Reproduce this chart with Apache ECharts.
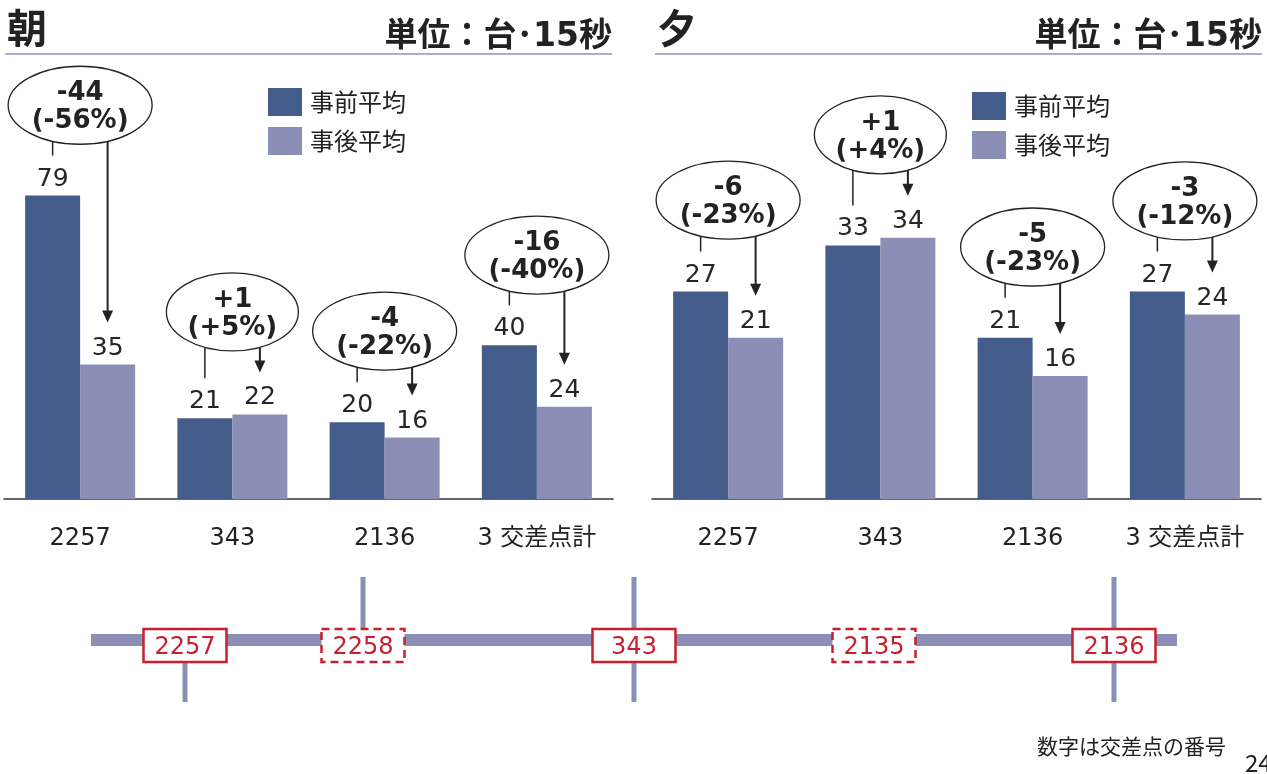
<!DOCTYPE html>
<html>
<head>
<meta charset="utf-8">
<script src="https://cdn.jsdelivr.net/npm/echarts@6/dist/echarts.min.js"></script>
<style>
  html, body { margin: 0; padding: 0; background: #fff; }
  #main { width: 1267px; height: 774px; }
</style>
</head>
<body>
<div id="main"></div>
<script>
// Intersections on the x axis
const categories = ['2257', '343', '2136', '3 交差点計'];

// Morning (朝): average vehicles per 15 s, before / after
const morningBefore = [79, 21, 20, 40];
const morningAfter  = [35, 22, 16, 24];
const morningChange = ['-44', '+1', '-4', '-16'];
const morningPct    = ['(-56%)', '(+5%)', '(-22%)', '(-40%)'];
// height (in axis units) of each callout bubble
const morningCalloutY = [102.5, 48.7, 43.7, 63.5];

// Evening (夕)
const eveningBefore = [27, 33, 21, 27];
const eveningAfter  = [21, 34, 16, 24];
const eveningChange = ['-6', '+1', '-5', '-3'];
const eveningPct    = ['(-23%)', '(+4%)', '(-23%)', '(-12%)'];
const eveningCalloutY = [38.9, 47.4, 32.8, 38.8];

const seriesNames = ['事前平均', '事後平均'];

// Road sketch: intersection numbers along the corridor
const intersections = ['2257', '2258', '343', '2135', '2136'];
const intersectionDashed = [false, true, false, true, false];

const COLOR_BEFORE = '#445C89';
const COLOR_AFTER = '#8B8FB6';
const INK = '#222222';
const RED = '#C8202F';
const JP = '"Noto Sans CJK JP", "Noto Sans", sans-serif';
const NUM = '"DejaVu Sans", Verdana, sans-serif';
const MIXED = '"DejaVu Sans", "Noto Sans CJK JP", sans-serif';

const chart = echarts.init(document.getElementById('main'), null, { renderer: 'canvas' });

function calloutRenderer(changes, pcts, before, after) {
  return function (params, api) {
    const i = params.dataIndex;
    const c = api.coord([api.value(0), api.value(1)]);
    const cx = c[0], cy = c[1];
    const rx = pcts[i].length > 5 ? 72 : 66;
    const ry = 39;
    const off = 27.5;
    const edge = cy + ry * Math.sqrt(1 - (off / rx) * (off / rx)) - 1;
    const tickEnd = api.coord([i, before[i]])[1] - 40;
    const tip = api.coord([i, after[i]])[1] - 42;
    return {
      type: 'group',
      children: [
        { type: 'line', shape: { x1: cx - off, y1: edge, x2: cx - off, y2: tickEnd },
          style: { stroke: INK, lineWidth: 1.5 } },
        { type: 'line', shape: { x1: cx + off, y1: edge, x2: cx + off, y2: tip - 10 },
          style: { stroke: INK, lineWidth: 2 } },
        { type: 'polygon', shape: { points: [[cx + off - 5.5, tip - 12], [cx + off + 5.5, tip - 12], [cx + off, tip]] },
          style: { fill: INK } },
        { type: 'ellipse', shape: { cx: cx, cy: cy, rx: rx, ry: ry },
          style: { fill: '#fff', stroke: INK, lineWidth: 1.3 } },
        { type: 'text', style: {
            text: changes[i] + '\n' + pcts[i], x: cx, y: cy + 2,
            align: 'center', verticalAlign: 'middle',
            font: 'bold 26px ' + NUM, lineHeight: 28, fill: INK } }
      ]
    };
  };
}

function barSeries(name, data, axis, color) {
  return {
    name: name, type: 'bar', xAxisIndex: axis, yAxisIndex: axis,
    data: data, barWidth: 55, barGap: '0%',
    itemStyle: { color: color },
    label: { show: true, position: 'top', distance: 4,
             fontFamily: NUM, fontSize: 25, color: '#262626' },
    emphasis: { disabled: true },
    z: 2
  };
}

function calloutSeries(axis, ys, changes, pcts, before, after) {
  return {
    type: 'custom', xAxisIndex: axis, yAxisIndex: axis,
    data: ys.map((y, i) => [i, y]),
    encode: { x: 0, y: 1 },
    renderItem: calloutRenderer(changes, pcts, before, after),
    silent: true, z: 5
  };
}

function xAxisFor(grid) {
  return {
    type: 'category', gridIndex: grid, data: categories,
    axisLine: { lineStyle: { color: '#333', width: 1.5 } },
    axisTick: { show: false },
    axisLabel: { interval: 0, fontFamily: MIXED, fontSize: 24, color: INK, margin: 28 }
  };
}

function yAxisFor(grid, max) {
  return { type: 'value', gridIndex: grid, min: 0, max: max, show: false, splitLine: { show: false } };
}

// Title band for one panel
function header(x0, x1, title) {
  return [
    { type: 'text', x: x0 + 2, y: 28, style: { text: title, font: 'bold 40px ' + JP, fill: INK, verticalAlign: 'middle' } },
    { type: 'text', x: x1, y: 37, style: { text: '単位：台･15秒', font: 'bold 33px "DejaVu Sans", "Noto Sans CJK JP", sans-serif', fill: INK, align: 'right', verticalAlign: 'middle' } },
    { type: 'line', shape: { x1: x0, y1: 54, x2: x1, y2: 54 }, style: { stroke: '#8E93BE', lineWidth: 1.5 } }
  ];
}

// Road sketch below the charts
function roadSketch() {
  const roadColor = COLOR_AFTER;
  const nodeX = [185, 363, 634, 874, 1114];
  const spurs = [[662, 702], [577, 628], [577, 702], null, [577, 702]];
  const els = [
    { type: 'rect', shape: { x: 91, y: 634, width: 1086, height: 12 }, style: { fill: roadColor } }
  ];
  spurs.forEach((s, i) => {
    if (s) els.push({ type: 'rect', shape: { x: nodeX[i] - 2.5, y: s[0], width: 5, height: s[1] - s[0] }, style: { fill: roadColor } });
  });
  intersections.forEach((name, i) => {
    els.push({
      type: 'rect', shape: { x: nodeX[i] - 41.5, y: 629, width: 83, height: 33 },
      style: { fill: '#fff', stroke: RED, lineWidth: 2.5, lineDash: intersectionDashed[i] ? [8, 5] : null }
    });
    els.push({
      type: 'text', x: nodeX[i], y: 648,
      style: { text: name, font: '24px ' + MIXED, fill: RED, align: 'center', verticalAlign: 'middle' }
    });
  });
  els.push({ type: 'text', x: 1037, y: 746, style: { text: '数字は交差点の番号', font: '21px ' + JP, fill: INK, verticalAlign: 'middle' } });
  els.push({ type: 'text', x: 1245, y: 763, style: { text: '24', font: '24px ' + JP, fill: INK, verticalAlign: 'middle' } });
  return els;
}

const legendBase = {
  data: seriesNames, orient: 'vertical', icon: 'rect', padding: 0,
  itemWidth: 34, itemHeight: 28, itemGap: 11, selectedMode: false,
  textStyle: { fontFamily: JP, fontSize: 24, color: INK, padding: [0, 0, 0, 3] }
};

const option = {
  backgroundColor: '#fff',
  animation: false,
  grid: [
    { left: 4, width: 609, top: 38, bottom: 275 },
    { left: 652, width: 609, top: 38, bottom: 275 }
  ],
  xAxis: [xAxisFor(0), xAxisFor(1)],
  yAxis: [yAxisFor(0, 120), yAxisFor(1, 60)],
  legend: [
    Object.assign({}, legendBase, { left: 268, top: 88 }),
    Object.assign({}, legendBase, { left: 972, top: 92 })
  ],
  series: [
    barSeries(seriesNames[0], morningBefore, 0, COLOR_BEFORE),
    barSeries(seriesNames[1], morningAfter, 0, COLOR_AFTER),
    barSeries(seriesNames[0], eveningBefore, 1, COLOR_BEFORE),
    barSeries(seriesNames[1], eveningAfter, 1, COLOR_AFTER),
    calloutSeries(0, morningCalloutY, morningChange, morningPct, morningBefore, morningAfter),
    calloutSeries(1, eveningCalloutY, eveningChange, eveningPct, eveningBefore, eveningAfter)
  ],
  graphic: [].concat(header(5, 612, '朝'), header(655, 1262, '夕'), roadSketch())
};

chart.setOption(option);
</script>
</body>
</html>
